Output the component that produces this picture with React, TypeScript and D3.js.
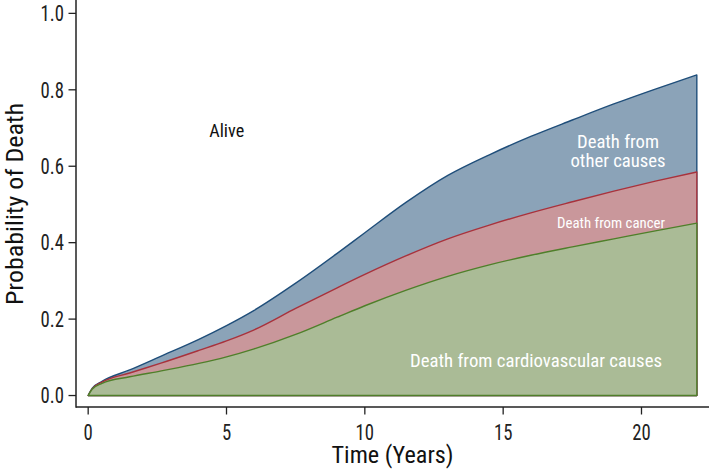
import React from "react";
import * as d3 from "d3";

const times = [0, 0.15, 0.5, 1.5, 2.6, 4, 5, 6, 7.5, 9, 10, 11.5, 13, 14.5, 16, 17.5, 19, 20.5, 22];
const cardio = [0, 0.017, 0.032, 0.049, 0.064, 0.084, 0.101, 0.122, 0.16, 0.205, 0.235, 0.276, 0.312, 0.342, 0.367, 0.389, 0.41, 0.431, 0.451];
const cancerCum = [0, 0.018, 0.035, 0.059, 0.084, 0.118, 0.143, 0.172, 0.228, 0.282, 0.317, 0.366, 0.41, 0.446, 0.478, 0.507, 0.535, 0.561, 0.585];
const otherCum = [0, 0.019, 0.037, 0.067, 0.102, 0.147, 0.183, 0.223, 0.294, 0.372, 0.426, 0.506, 0.576, 0.63, 0.678, 0.721, 0.763, 0.802, 0.839];
const xTicks = [0, 5, 10, 15, 20];
const yTicks = [0, 0.2, 0.4, 0.6, 0.8, 1.0];

const W = 709, H = 471;
const FONT = "'Roboto Condensed', Roboto, 'Liberation Sans', sans-serif";

export default function App() {
  const x = d3.scaleLinear().domain([-0.44, 22.44]).range([76, 709]);
  const y = d3.scaleLinear().domain([-0.03, 1.035]).range([407, 0]);

  const mk = (vals: number[]) =>
    d3.area<number>()
      .x((_, i) => x(times[i]))
      .y0(y(0))
      .y1((d) => y(d))
      .curve(d3.curveMonotoneX)(vals) as string;

  const layers = [
    { vals: otherCum, fill: "#8ba3b8", stroke: "#1f4e7a" },
    { vals: cancerCum, fill: "#c9979b", stroke: "#a8323c" },
    { vals: cardio, fill: "#aabb96", stroke: "#4f7f2a" },
  ];

  const axisColor = "#222";
  const sx = 0.87;

  return (
    <svg width={W} height={H} style={{ position: "absolute", left: 0, top: 0, background: "#fff" }} fontFamily={FONT}>
      {layers.map((l, i) => (
        <path key={i} d={mk(l.vals) + "Z"} fill={l.fill} stroke={l.stroke} strokeWidth={1.4} strokeLinejoin="round" />
      ))}

      {/* axes */}
      <line x1={76} x2={709} y1={407} y2={407} stroke={axisColor} strokeWidth={1.5} />
      <line x1={76} x2={76} y1={0} y2={407.75} stroke={axisColor} strokeWidth={1.5} />
      {xTicks.map((t) => (
        <g key={t}>
          <line x1={x(t)} x2={x(t)} y1={407} y2={414.5} stroke={axisColor} strokeWidth={1.3} />
          <text transform={`translate(${x(t)},440) scale(${sx},1)`} textAnchor="middle" fontSize={21.5} fill="#222">
            {t}
          </text>
        </g>
      ))}
      {yTicks.map((t) => (
        <g key={t}>
          <line x1={68.5} x2={76} y1={y(t)} y2={y(t)} stroke={axisColor} strokeWidth={1.3} />
          <text transform={`translate(64,${y(t) + 7.8}) scale(${sx},1)`} textAnchor="end" fontSize={21.5} fill="#222">
            {t.toFixed(1)}
          </text>
        </g>
      ))}

      <text x={392.5} y={463} textAnchor="middle" fontSize={23} fill="#111" textLength={122} lengthAdjust="spacingAndGlyphs">
        Time (Years)
      </text>
      <text transform="translate(23,204) rotate(-90)" textAnchor="middle" fontSize={23.5} fill="#111" textLength={202} lengthAdjust="spacingAndGlyphs">
        Probability of Death
      </text>

      {/* annotations */}
      <text x={226.7} y={137} textAnchor="middle" fontSize={17.5} fill="#111" textLength={35} lengthAdjust="spacingAndGlyphs">
        Alive
      </text>
      <text x={618} y={147.5} textAnchor="middle" fontSize={18.5} fill="#fff" textLength={82} lengthAdjust="spacingAndGlyphs">
        Death from
      </text>
      <text x={618} y={166.5} textAnchor="middle" fontSize={18.5} fill="#fff" textLength={95} lengthAdjust="spacingAndGlyphs">
        other causes
      </text>
      <text x={611} y={227.5} textAnchor="middle" fontSize={15} fill="#fff" textLength={108} lengthAdjust="spacingAndGlyphs">
        Death from cancer
      </text>
      <text x={536} y={366.5} textAnchor="middle" fontSize={18.5} fill="#fff" textLength={252} lengthAdjust="spacingAndGlyphs">
        Death from cardiovascular causes
      </text>
    </svg>
  );
}
